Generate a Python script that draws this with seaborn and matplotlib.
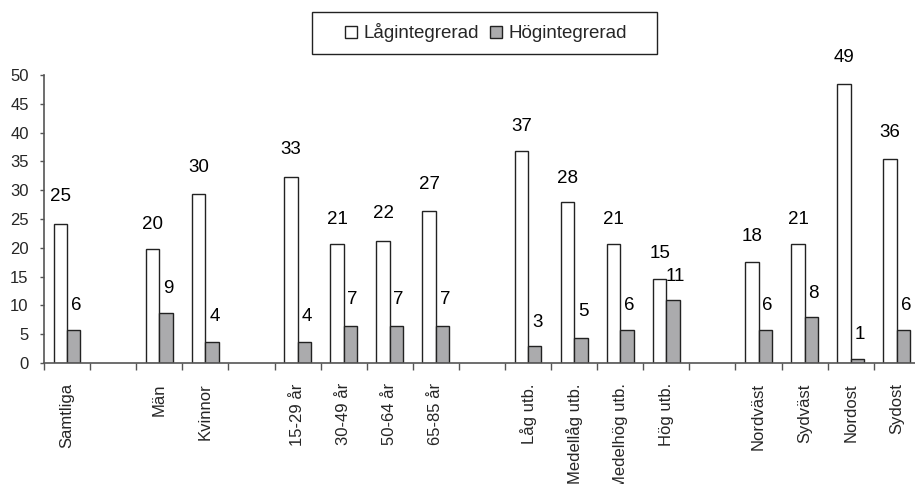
import matplotlib
matplotlib.use("Agg")
import matplotlib.pyplot as plt
import seaborn as sns
import pandas as pd
import numpy as np
from matplotlib.patches import Rectangle

# ---- data ----
categories = ["Samtliga", None, "Män", "Kvinnor", None,
              "15-29 år", "30-49 år", "50-64 år", "65-85 år", None,
              "Låg utb.", "Medellåg utb.", "Medelhög utb.", "Hög utb.", None,
              "Nordväst", "Sydväst", "Nordost", "Sydost"]
series = ["Lågintegrerad", "Högintegrerad"]
low_values = [24.2, 19.8, 29.3, 32.3, 20.6, 21.2, 26.4, 36.8, 27.9, 20.6, 14.6, 17.5, 20.6, 48.5, 35.5]
high_values = [5.8, 8.7, 3.6, 3.6, 6.5, 6.5, 6.5, 2.9, 4.3, 5.8, 11.0, 5.8, 8.0, 0.7, 5.8]
low_labels = [25, 20, 30, 33, 21, 22, 27, 37, 28, 21, 15, 18, 21, 49, 36]
high_labels = [6, 9, 4, 4, 7, 7, 7, 3, 5, 6, 11, 6, 8, 1, 6]
y_ticks = [0, 5, 10, 15, 20, 25, 30, 35, 40, 45, 50]

# ---- build table ----
slot_keys = [c if c is not None else f"_gap{i}" for i, c in enumerate(categories)]
real_cats = [c for c in categories if c is not None]
df = pd.DataFrame({
    "Kategori": real_cats * 2,
    "Serie": [series[0]] * len(real_cats) + [series[1]] * len(real_cats),
    "Värde": low_values + high_values,
})

sns.set_theme(style="white")
plt.rcParams["font.family"] = ["Liberation Sans", "DejaVu Sans"]

W, H = 915, 484
fig = plt.figure(figsize=(W / 100, H / 100), dpi=100)
slot_px = 46.1
ax = fig.add_axes([44 / W, 1 - 363 / H, slot_px * len(categories) / W, (363 - 75) / H])

sns.barplot(data=df, x="Kategori", y="Värde", hue="Serie", order=slot_keys,
            hue_order=series, palette=["white", "#ababad"], width=0.58, gap=0,
            edgecolor="#222222", linewidth=1.0, errorbar=None, ax=ax)

handles, labels = ax.get_legend_handles_labels()
if ax.get_legend() is not None:
    ax.get_legend().remove()

ax.set_xlim(-0.5, len(categories) - 0.5)
ax.set_ylim(0, 50)
ax.set_yticks(y_ticks)
ax.set_yticklabels([str(t) for t in y_ticks], fontsize=12)
ax.set_xlabel("")
ax.set_ylabel("")

# category boundaries as major ticks, labels at centres as minor ticks
bounds = np.arange(-0.5, len(categories), 1.0)
ax.set_xticks(bounds)
ax.set_xticklabels([""] * len(bounds))
ax.set_xticks(np.arange(len(categories)), minor=True)
ax.set_xticklabels([c if c is not None else "" for c in categories], minor=True,
                   rotation=90, fontsize=12, va="top", ha="center")
ax.tick_params(axis="x", which="major", direction="out", length=5, width=1, color="#555555", bottom=True)
ax.tick_params(axis="x", which="minor", length=0, pad=14.5, bottom=True)
ax.tick_params(axis="y", direction="out", length=3, width=1, color="#555555", left=True, pad=8)

for s in ["top", "right"]:
    ax.spines[s].set_visible(False)
for s in ["left", "bottom"]:
    ax.spines[s].set_color("#555555")
    ax.spines[s].set_linewidth(1.2)

# data labels
real_idx = [i for i, c in enumerate(categories) if c is not None]
off = 0.58 / 4
for k, i in enumerate(real_idx):
    ax.annotate(str(low_labels[k]), xy=(i - off, low_labels[k]), xytext=(0, 13.3),
                textcoords="offset points", ha="center", va="baseline", fontsize=13.5, color="black")
    ax.annotate(str(high_labels[k]), xy=(i + off + 0.05, high_labels[k]), xytext=(0, 13.3),
                textcoords="offset points", ha="center", va="baseline", fontsize=13.5, color="black")

# legend
fig.legend(handles, labels, ncol=2, loc="center", bbox_to_anchor=(486 / W, 1 - 33 / H),
           frameon=False, handlelength=0.65, handleheight=0.65, handletextpad=0.35,
           columnspacing=0.6, fontsize=13.5)
fig.patches.append(Rectangle((312 / W, 1 - 54 / H), (657 - 312) / W, 42 / H,
                             transform=fig.transFigure, fill=False,
                             edgecolor="#222222", linewidth=1.0))

fig.savefig("out.png", dpi=100)
